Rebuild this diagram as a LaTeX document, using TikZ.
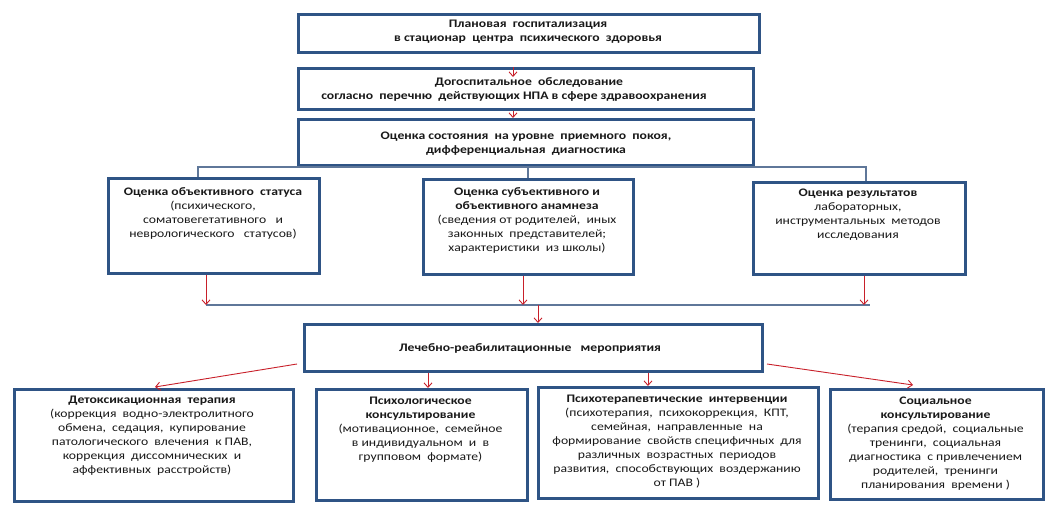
\documentclass[tikz,border=0pt]{standalone}
\usepackage{fontspec}
\setmainfont{Carlito}[FakeStretch=1.19]
\usetikzlibrary{arrows.meta}
\definecolor{boxblue}{HTML}{2F5485}
\definecolor{linegrey}{HTML}{5F7799}
\definecolor{arrred}{HTML}{C8202A}
\tikzset{
  box/.style={draw=boxblue, line width=2.5pt, fill=white, anchor=north west, inner sep=0pt},
  txt/.style={align=center, font=\fontsize{11.5}{14}\selectfont, inner sep=0pt, text=black!90},
  conn/.style={draw=linegrey, line width=1.8pt},
  arr/.style={draw=arrred, line width=0.9pt, -{Straight Barb[length=4.5pt,width=8pt]}}
}
\begin{document}
\begin{tikzpicture}[x=1pt,y=-1pt]
\useasboundingbox (0,0) rectangle (1050,517);
% boxes
\node[box, minimum width=461pt, minimum height=38pt] (b1) at (297,13) {};
\node[box, minimum width=455pt, minimum height=41pt] (b2) at (297,67) {};
\node[box, minimum width=455pt, minimum height=46pt] (b3) at (297,118) {};
\node[box, minimum width=211pt, minimum height=95pt] (bl) at (107,177) {};
\node[box, minimum width=210pt, minimum height=95pt] (bm) at (422,178) {};
\node[box, minimum width=212pt, minimum height=92pt] (br) at (752,181) {};
\node[box, minimum width=458pt, minimum height=47pt] (bt) at (303,323) {};
\node[box, minimum width=279pt, minimum height=112pt] (bA) at (13,388) {};
\node[box, minimum width=211pt, minimum height=111pt] (bB) at (315,388) {};
\node[box, minimum width=280pt, minimum height=111pt] (bC) at (537,386) {};
\node[box, minimum width=213pt, minimum height=110pt] (bD) at (829,388) {};
% texts
\node[txt] (t1) at (528,32) {\bfseries Плановая~ госпитализация\\\bfseries в стационар~ центра~ психического~ здоровья};
\node[txt] (t2) at (514,89) {\bfseries \hspace*{30pt}Догоспитальное~ обследование\\\bfseries согласно~ перечню~ действующих НПА в сфере здравоохранения};
\node[txt] (t3) at (526,144) {\bfseries Оценка состояния~ на уровне~ приемного~ покоя,\\\bfseries дифференциальная~ диагностика};
\node[txt] (tl) at (213,213) {\bfseries Оценка объективного~ статуса\\(психического,\\соматовегетативного~~ и\\неврологического~~ статусов)};
\node[txt] (tm) at (527,220.5) {\bfseries Оценка субъективного и\\\bfseries объективного анамнеза\\(сведения от родителей,~ иных\\законных~ представителей;\\характеристики~ из школы)};
\node[txt] (tr) at (858,214.5) {\bfseries Оценка результатов\\лабораторных,\\инструментальных~ методов\\исследования};
\node[txt] (tt) at (530,348) {\bfseries Лечебно-реабилитационные~~ мероприятия};
\node[txt] (tA) at (152,436) {\bfseries Детоксикационная~ терапия\\(коррекция~ водно-электролитного\\обмена,~ седация,~ купирование\\патологического~ влечения~ к ПАВ,\\коррекция~ диссомнических~ и\\аффективных~ расстройств)};
\node[txt] (tB) at (420.5,430) {\bfseries Психологическое\\\bfseries консультирование\\(мотивационное,~ семейное\\в индивидуальном~ и~ в\\групповом~ формате)};
\node[txt] (tC) at (677,441.5) {\bfseries Психотерапевтические~ интервенции\\(психотерапия,~ психокоррекция,~ КПТ,\\семейная,~ направленные~ на\\формирование~ свойств специфичных~ для\\различных~ возрастных~ периодов\\развития,~ способствующих~ воздержанию\\от ПАВ )};
\node[txt] (tD) at (935.5,444) {\bfseries Социальное\\\bfseries консультирование\\(терапия средой,~ социальные\\тренинги,~ социальная\\диагностика~ с привлечением\\родителей,~ тренинги\\планирования~ времени )};
% coordinates
\coordinate (a1) at (513,77);
\coordinate (a2) at (513,0);
\coordinate (h1) at (198,167);
\coordinate (h2) at (866,167);
\coordinate (v1) at (206,305);
\coordinate (v2) at (523,305);
\coordinate (v3) at (864,305);
\coordinate (v4) at (870,305);
\coordinate (v5) at (538,305);
\coordinate (s1) at (297,364);
\coordinate (e1) at (155,387);
\coordinate (s4) at (767,364);
\coordinate (e4) at (913,385);
\coordinate (x2) at (428,0);
\coordinate (x3) at (648,0);
% connectors
\draw[arr] (b2.north -| a1) -- (a1);
\draw[arr] (b2.south -| a2) -- (b3.north -| a2);
\draw[conn] (bl.north -| h1) -- (h1) -- (h2) -- (br.north -| h2);
\draw[conn] (bm.north) -- (bm.north |- h1);
\draw[conn] (v1) -- (v4);
\draw[arr] (bl.south -| v1) -- (v1);
\draw[arr] (bm.south -| v2) -- (v2);
\draw[arr] (br.south -| v3) -- (v3);
\draw[arr] (v5) -- (bt.north -| v5);
\draw[arr] (s1) -- (e1);
\draw[arr] (bt.south -| x2) -- (bB.north -| x2);
\draw[arr] (bt.south -| x3) -- (bC.north -| x3);
\draw[arr] (s4) -- (e4);
\end{tikzpicture}
\end{document}
